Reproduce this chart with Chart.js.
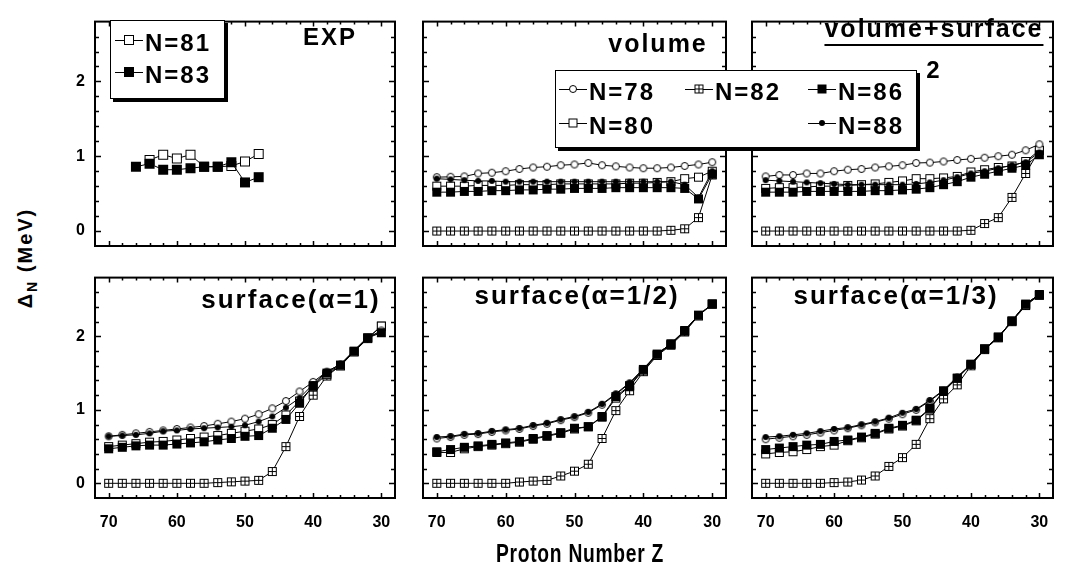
<!DOCTYPE html>
<html>
<head>
<meta charset="utf-8">
<script src="https://cdn.jsdelivr.net/npm/chart.js@4.4.0/dist/chart.umd.min.js"></script>
<style>
  html, body { margin: 0; padding: 0; background: #fff; }
  #page { position: relative; width: 1070px; height: 569px; overflow: hidden;
          font-family: "Liberation Sans", Arial, sans-serif; color: #000; }
  #page canvas.pan { position: absolute; }
  .lbl { position: absolute; font-weight: bold; white-space: nowrap; letter-spacing: 2px;
         transform: translate(-50%, -50%); line-height: 1; }
  .legbox { position: absolute; background: #fff; border: 1.5px solid #000; box-shadow: 3px 3px 0 #000; }
  .legrow { position: absolute; display: flex; align-items: center; font-weight: bold;
            font-size: 24px; letter-spacing: 2px; white-space: nowrap; line-height: 1; }
  .legrow canvas { margin-right: 2px; margin-top: -6px; }
</style>
</head>
<body>
<div id="page"></div>
<script>
/* ---------------- DATA ---------------- */
const zAll = [70, 68, 66, 64, 62, 60, 58, 56, 54, 52, 50, 48, 46, 44, 42, 40, 38, 36, 34, 32, 30];

// EXP panel
const expZ81 = [64, 62, 60, 58, 56, 54, 52, 50, 48];
const exp81  = [0.95, 1.02, 0.97, 1.02, 0.86, 0.86, 0.87, 0.93, 1.03];
const expZ83 = [66, 64, 62, 60, 58, 56, 54, 52, 50, 48];
const exp83  = [0.86, 0.90, 0.82, 0.82, 0.84, 0.86, 0.86, 0.92, 0.65, 0.72];

// volume
const vol78 = [0.72, 0.725, 0.73, 0.77, 0.78, 0.80, 0.83, 0.85, 0.86, 0.88, 0.89, 0.91, 0.88, 0.865, 0.85, 0.84, 0.84, 0.85, 0.87, 0.89, 0.92];
const vol80 = [0.60, 0.60, 0.60, 0.61, 0.61, 0.61, 0.62, 0.62, 0.62, 0.63, 0.63, 0.63, 0.63, 0.63, 0.64, 0.64, 0.65, 0.66, 0.70, 0.72, 0.80];
const vol82 = [0, 0, 0, 0, 0, 0, 0, 0, 0, 0, 0, 0, 0, 0, 0, 0, 0, 0.01, 0.03, 0.18, 0.75];
const vol86 = [0.52, 0.52, 0.53, 0.53, 0.54, 0.54, 0.55, 0.55, 0.56, 0.56, 0.57, 0.57, 0.57, 0.58, 0.58, 0.58, 0.58, 0.58, 0.57, 0.43, 0.76];
const vol88 = [0.70, 0.69, 0.68, 0.67, 0.67, 0.66, 0.66, 0.66, 0.66, 0.66, 0.66, 0.66, 0.66, 0.66, 0.66, 0.66, 0.66, 0.66, 0.62, 0.45, 0.80];

// (volume+surface)/2
const half78 = [0.73, 0.75, 0.75, 0.77, 0.77, 0.80, 0.82, 0.83, 0.85, 0.865, 0.88, 0.91, 0.915, 0.93, 0.95, 0.965, 0.98, 1.0, 1.02, 1.08, 1.16];
const half80 = [0.57, 0.58, 0.58, 0.59, 0.60, 0.60, 0.61, 0.62, 0.63, 0.65, 0.67, 0.70, 0.70, 0.71, 0.73, 0.79, 0.82, 0.85, 0.87, 0.93, 1.08];
const half82 = [0, 0, 0, 0, 0, 0, 0, 0, 0, 0, 0, 0, 0, 0, 0, 0.01, 0.10, 0.18, 0.45, 0.77, 1.08];
const half86 = [0.52, 0.52, 0.52, 0.53, 0.53, 0.53, 0.53, 0.53, 0.54, 0.54, 0.55, 0.56, 0.58, 0.62, 0.66, 0.72, 0.76, 0.80, 0.84, 0.88, 1.02];
const half88 = [0.68, 0.67, 0.66, 0.65, 0.64, 0.63, 0.62, 0.62, 0.62, 0.62, 0.62, 0.63, 0.65, 0.68, 0.72, 0.77, 0.80, 0.84, 0.88, 0.92, 1.05];

// surface(alpha=1)
const surf1_78 = [0.64, 0.66, 0.68, 0.70, 0.72, 0.74, 0.76, 0.78, 0.81, 0.84, 0.88, 0.94, 1.02, 1.12, 1.25, 1.38, 1.52, 1.62, 1.80, 1.98, 2.08];
const surf1_80 = [0.50, 0.52, 0.54, 0.56, 0.57, 0.59, 0.61, 0.63, 0.65, 0.68, 0.71, 0.74, 0.80, 0.93, 1.12, 1.32, 1.48, 1.60, 1.79, 1.98, 2.14];
const surf1_82 = [0, 0, 0, 0, 0, 0, 0, 0, 0.01, 0.02, 0.03, 0.04, 0.16, 0.50, 0.91, 1.20, 1.46, 1.60, 1.79, 1.97, 2.14];
const surf1_86 = [0.47, 0.49, 0.51, 0.52, 0.52, 0.535, 0.55, 0.565, 0.59, 0.61, 0.64, 0.65, 0.75, 0.87, 1.09, 1.33, 1.50, 1.61, 1.80, 1.98, 2.05];
const surf1_88 = [0.64, 0.65, 0.66, 0.68, 0.71, 0.72, 0.74, 0.75, 0.76, 0.77, 0.79, 0.84, 0.91, 1.03, 1.16, 1.35, 1.52, 1.62, 1.81, 1.99, 2.06];

// surface(alpha=1/2)
const surf2_78 = [0.61, 0.63, 0.66, 0.67, 0.70, 0.72, 0.74, 0.78, 0.81, 0.86, 0.90, 0.96, 1.07, 1.21, 1.36, 1.55, 1.76, 1.90, 2.08, 2.29, 2.44];
const surf2_80 = [0.42, 0.42, 0.47, 0.50, 0.52, 0.54, 0.56, 0.60, 0.64, 0.68, 0.74, 0.77, 0.90, 1.16, 1.32, 1.54, 1.75, 1.89, 2.07, 2.28, 2.44];
const surf2_82 = [0, 0, 0, 0, 0, 0, 0.017, 0.03, 0.04, 0.10, 0.165, 0.26, 0.61, 0.99, 1.26, 1.52, 1.74, 1.88, 2.06, 2.28, 2.44];
const surf2_86 = [0.43, 0.46, 0.49, 0.51, 0.53, 0.55, 0.57, 0.61, 0.65, 0.69, 0.75, 0.77, 0.91, 1.18, 1.33, 1.55, 1.76, 1.90, 2.08, 2.29, 2.44];
const surf2_88 = [0.63, 0.64, 0.67, 0.68, 0.71, 0.73, 0.75, 0.79, 0.82, 0.87, 0.91, 0.97, 1.08, 1.22, 1.37, 1.56, 1.76, 1.90, 2.08, 2.29, 2.44];

// surface(alpha=1/3)
const surf3_78 = [0.60, 0.62, 0.64, 0.66, 0.69, 0.72, 0.75, 0.79, 0.83, 0.88, 0.94, 1.00, 1.12, 1.26, 1.44, 1.62, 1.83, 1.99, 2.21, 2.44, 2.57];
const surf3_80 = [0.40, 0.42, 0.43, 0.46, 0.50, 0.52, 0.58, 0.62, 0.67, 0.74, 0.78, 0.85, 1.01, 1.25, 1.43, 1.62, 1.83, 1.99, 2.21, 2.43, 2.56];
const surf3_82 = [0, 0, 0, 0, 0, 0.01, 0.017, 0.045, 0.10, 0.23, 0.35, 0.53, 0.88, 1.15, 1.34, 1.60, 1.82, 1.98, 2.20, 2.42, 2.56];
const surf3_86 = [0.46, 0.48, 0.50, 0.52, 0.53, 0.57, 0.59, 0.63, 0.68, 0.75, 0.79, 0.86, 1.02, 1.26, 1.43, 1.62, 1.83, 1.99, 2.21, 2.44, 2.57];
const surf3_88 = [0.63, 0.64, 0.66, 0.68, 0.71, 0.74, 0.76, 0.80, 0.84, 0.89, 0.96, 1.01, 1.13, 1.27, 1.45, 1.62, 1.83, 1.99, 2.21, 2.44, 2.57];

const xTickLabels = [70, 60, 50, 40, 30];
const yTickLabels = [0, 1, 2];

/* --------------- markers --------------- */
function makeMarker(kind, s) {
  const c = document.createElement("canvas");
  c.width = c.height = s + 2;
  const g = c.getContext("2d");
  const m = (s + 2) / 2;
  g.strokeStyle = "#000"; g.fillStyle = "#000"; g.lineWidth = 1;
  if (kind === "circle") {
    g.beginPath(); g.arc(m, m, s / 2 - 0.5, 0, 2 * Math.PI);
    g.fillStyle = "#fff"; g.fill(); g.stroke();
  } else if (kind === "dot") {
    g.beginPath(); g.arc(m, m, s / 2, 0, 2 * Math.PI); g.fill();
  } else if (kind === "box") {
    g.fillRect(1, 1, s, s);
  } else {
    g.fillStyle = "#fff";
    g.fillRect(1.5, 1.5, s - 1, s - 1);
    g.strokeRect(1.5, 1.5, s - 1, s - 1);
    if (kind === "crossbox") {
      g.beginPath();
      g.moveTo(Math.floor(m) + 0.5, 1.5); g.lineTo(Math.floor(m) + 0.5, s + 0.5);
      g.moveTo(1.5, Math.floor(m) + 0.5); g.lineTo(s + 0.5, Math.floor(m) + 0.5);
      g.stroke();
    }
  }
  return c;
}

const MK = {
  78: makeMarker("circle", 8),
  80: makeMarker("square", 9),
  82: makeMarker("crossbox", 9),
  86: makeMarker("box", 9),
  88: makeMarker("dot", 6),
  81: makeMarker("square", 10),
  83: makeMarker("box", 10)
};

/* --------------- layout --------------- */
const page = document.getElementById("page");
const AXW = 45, AXH = 40, PADT = 3, PADR = 3;

// inward ticks on all four sides + frame
const frameTicks = {
  id: "frameTicks",
  afterDraw(chart) {
    const { ctx, chartArea: a, scales: { x, y } } = chart;
    ctx.save();
    ctx.strokeStyle = "#000";
    ctx.lineWidth = 1.5;
    ctx.beginPath();
    x.ticks.forEach(t => {
      if (t.value <= x.min + 0.01 || t.value >= x.max - 0.01) return;
      const px = Math.round(x.getPixelForValue(t.value)) + 0.5;
      const len = t.value % 10 === 0 ? 5 : 3;
      ctx.moveTo(px, a.bottom); ctx.lineTo(px, a.bottom - len);
      ctx.moveTo(px, a.top); ctx.lineTo(px, a.top + len);
    });
    y.ticks.forEach(t => {
      if (t.value <= y.min + 0.01 || t.value >= y.max - 0.01) return;
      const py = Math.round(y.getPixelForValue(t.value)) + 0.5;
      const len = Math.abs(t.value - Math.round(t.value)) < 1e-6 ? 6 : 4;
      ctx.moveTo(a.left, py); ctx.lineTo(a.left + len, py);
      ctx.moveTo(a.right, py); ctx.lineTo(a.right - len, py);
    });
    ctx.stroke();
    ctx.lineWidth = 2;
    ctx.strokeRect(a.left, a.top, a.width, a.height);
    ctx.restore();
  }
};

const tickFont = { family: '"Liberation Sans", Arial, sans-serif', size: 16, weight: "bold" };

function series(zs, vs, key) {
  return {
    data: zs.map((z, i) => ({ x: z, y: vs[i] })),
    borderColor: "#000",
    borderWidth: 1,
    pointStyle: MK[key],
    pointRadius: 5,
    tension: 0
  };
}

function panel(rect, showX, showY, datasets) {
  const [L, T, R, B] = rect;
  const cv = document.createElement("canvas");
  cv.className = "pan";
  cv.width = (R - L) + AXW + PADR;
  cv.height = (B - T) + PADT + AXH;
  cv.style.left = (L - AXW) + "px";
  cv.style.top = (T - PADT) + "px";
  page.appendChild(cv);
  new Chart(cv, {
    type: "line",
    data: { datasets },
    options: {
      responsive: false, animation: false, devicePixelRatio: 1,
      layout: { padding: { left: 0, top: PADT, right: PADR, bottom: 0 } },
      plugins: { legend: { display: false }, tooltip: { enabled: false } },
      scales: {
        x: {
          type: "linear", reverse: true, min: 28, max: 72,
          grid: { display: false, drawTicks: false },
          border: { display: false },
          ticks: {
            stepSize: 2, autoSkip: false, maxRotation: 0, padding: 15,
            color: "#000", font: tickFont,
            callback: v => (showX && xTickLabels.includes(Math.round(v)) && Math.abs(v - Math.round(v)) < 1e-6) ? String(Math.round(v)) : ""
          },
          afterFit: s => { s.height = AXH; }
        },
        y: {
          type: "linear", min: -0.2, max: 2.8,
          grid: { display: false, drawTicks: false },
          border: { display: false },
          ticks: {
            stepSize: 0.2, autoSkip: false, padding: 10,
            color: "#000", font: tickFont,
            callback: v => (showY && Math.abs(v - Math.round(v)) < 1e-6 && yTickLabels.includes(Math.round(v))) ? String(Math.round(v)) : ""
          },
          afterFit: s => { s.width = AXW; }
        }
      }
    },
    plugins: [frameTicks]
  });
}

function fiveSeries(a78, a80, a82, a86, a88) {
  // first entry is drawn on top
  return [
    series(zAll, a88, 88),
    series(zAll, a86, 86),
    series(zAll, a78, 78),
    series(zAll, a80, 80),
    series(zAll, a82, 82)
  ];
}

Chart.defaults.animation = false;

panel([95, 5, 407, 246], false, true, [series(expZ83, exp83, 83), series(expZ81, exp81, 81)]);
panel([423, 5, 738, 246], false, false, fiveSeries(vol78, vol80, vol82, vol86, vol88));
panel([752, 5, 1065, 246], false, false, fiveSeries(half78, half80, half82, half86, half88));
panel([95, 261, 407, 498], true, true, fiveSeries(surf1_78, surf1_80, surf1_82, surf1_86, surf1_88));
panel([423, 261, 738, 498], true, false, fiveSeries(surf2_78, surf2_80, surf2_82, surf2_86, surf2_88));
panel([752, 261, 1065, 498], true, false, fiveSeries(surf3_78, surf3_80, surf3_82, surf3_86, surf3_88));

/* --------------- text --------------- */
function label(html, cx, cy, size) {
  const d = document.createElement("div");
  d.className = "lbl";
  d.style.left = cx + "px";
  d.style.top = cy + "px";
  d.style.fontSize = size + "px";
  d.innerHTML = html;
  page.appendChild(d);
  return d;
}

label("EXP", 330, 37, 24);
label("volume", 658, 43, 25);
const frac = label("volume+surface", 934, 31, 25);
frac.style.borderBottom = "2px solid #000";
frac.style.paddingBottom = "3px";
label("2", 934, 70, 24);
label("surface(α=1)", 291, 299, 26);
label("surface(α=1/2)", 577, 295, 26);
label("surface(α=1/3)", 896, 295, 26);

const xt = label("Proton Number Z", 580, 553, 26);
xt.style.letterSpacing = "1px";
xt.style.transform = "translate(-50%, -50%) scaleX(0.74)";
const yt = label("Δ<sub style=\"font-size:14px;vertical-align:-5px\">N</sub> (MeV)", 27, 258, 20);
yt.style.transform = "translate(-50%, -50%) rotate(-90deg)";

/* --------------- legends --------------- */
function sample(key) {
  const c = document.createElement("canvas");
  c.width = 28; c.height = 14;
  const g = c.getContext("2d");
  g.strokeStyle = "#000"; g.lineWidth = 1;
  g.beginPath(); g.moveTo(0, 7.5); g.lineTo(28, 7.5); g.stroke();
  const m = MK[key];
  g.drawImage(m, 14 - m.width / 2, 7 - m.height / 2);
  return c;
}

function legend(box, rows) {
  const b = document.createElement("div");
  b.className = "legbox";
  b.style.left = box[0] + "px"; b.style.top = box[1] + "px";
  b.style.width = box[2] + "px"; b.style.height = box[3] + "px";
  rows.forEach(r => {
    const row = document.createElement("div");
    row.className = "legrow";
    row.style.left = r.x + "px"; row.style.top = r.y + "px";
    row.appendChild(sample(r.key));
    row.appendChild(document.createTextNode("N=" + r.key));
    b.appendChild(row);
  });
  page.appendChild(b);
}

legend([110, 20, 113, 77], [
  { key: 81, x: 4, y: 10 },
  { key: 83, x: 4, y: 42 }
]);
legend([555, 70, 360, 76], [
  { key: 78, x: 3, y: 9 },
  { key: 82, x: 129, y: 9 },
  { key: 86, x: 252, y: 9 },
  { key: 80, x: 3, y: 43 },
  { key: 88, x: 252, y: 43 }
]);
</script>
</body>
</html>
